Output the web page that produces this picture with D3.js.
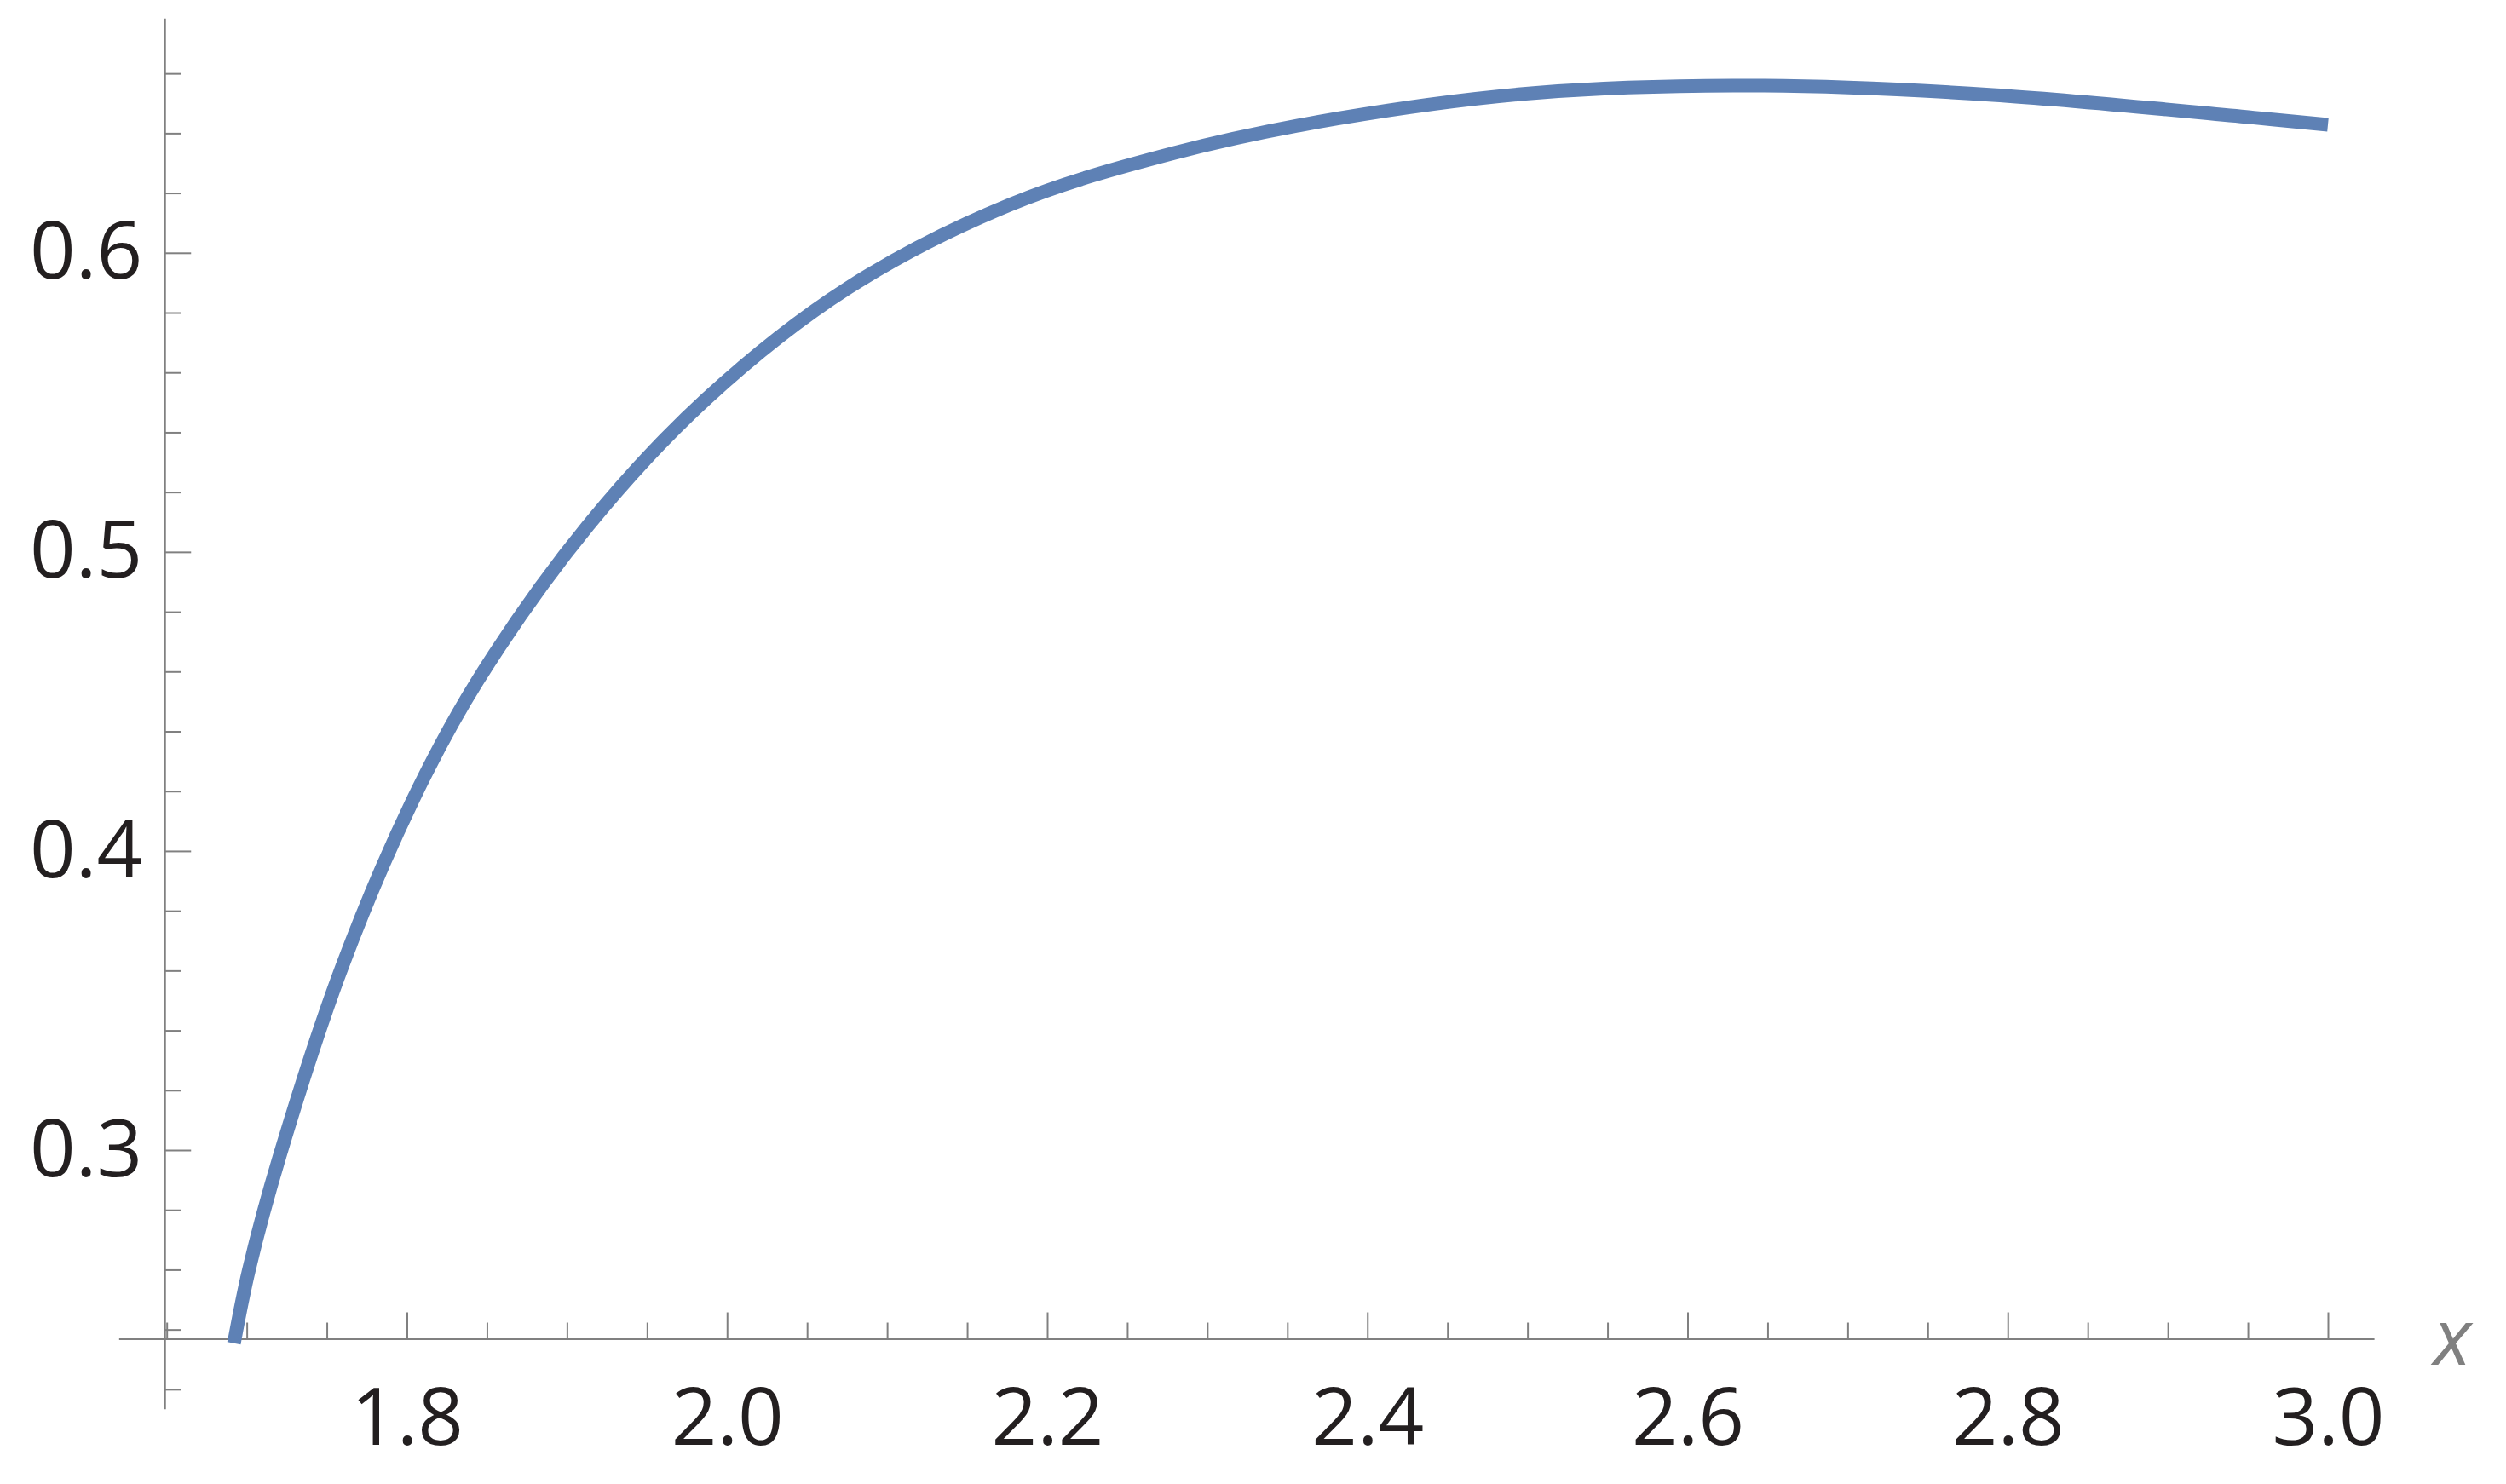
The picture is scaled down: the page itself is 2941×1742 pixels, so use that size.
<!DOCTYPE html>
<html>
<head>
<meta charset="utf-8">
<script src="https://cdn.jsdelivr.net/npm/d3@7"></script>
<style>
  html, body { margin: 0; padding: 0; background: #fff; }
  svg { display: block; }
</style>
</head>
<body>
<script>
// Kurvans punkter
var xValues = [1.692, 1.7014, 1.7206, 1.7598, 1.8035, 1.8439, 1.9133, 1.9871, 2.0757,
               2.1776, 2.2795, 2.3813, 2.5055, 2.648, 2.7907, 2.9537, 3.000];
var yValues = [0.2354, 0.2601, 0.2981, 0.3617, 0.4168, 0.4567, 0.5089, 0.5512, 0.5883,
               0.6163, 0.6334, 0.6449, 0.6535, 0.6559, 0.6528, 0.6452, 0.6428];

// Axlar: huvudstreck, etiketter och små streck
var xMajor = [1.8, 2.0, 2.2, 2.4, 2.6, 2.8, 3.0];
var xLabels = ["1.8", "2.0", "2.2", "2.4", "2.6", "2.8", "3.0"];
var xMinor = [1.65, 1.70, 1.75, 1.85, 1.90, 1.95, 2.05, 2.10, 2.15, 2.25, 2.30, 2.35,
              2.45, 2.50, 2.55, 2.65, 2.70, 2.75, 2.85, 2.90, 2.95];
var yMajor = [0.3, 0.4, 0.5, 0.6];
var yLabels = ["0.3", "0.4", "0.5", "0.6"];
var yMinor = [0.22, 0.24, 0.26, 0.28, 0.32, 0.34, 0.36, 0.38, 0.42, 0.44, 0.46, 0.48,
              0.52, 0.54, 0.56, 0.58, 0.62, 0.64, 0.66];
var axisLabel = "x";

// Axelomfång och korsningspunkt (i dataenheter)
var xExtent = [1.62, 3.0288], yExtent = [0.2135, 0.6785];
var xCross = 1.6487, yCross = 0.2369;

var width = 2941, height = 1742;
var gray = "#808080", lineColor = "#5e81b5", textColor = "#231f20";

var xScale = d3.scaleLinear().domain([1.8, 3.0]).range([477.5, 2732]);
var yScale = d3.scaleLinear().domain([0.3, 0.6]).range([1350, 296.8]);

// Kopior som täcker hela axellinjen
var xAxisScale = xScale.copy().domain(xExtent).range(xExtent.map(xScale));
var yAxisScale = yScale.copy().domain(yExtent).range(yExtent.map(yScale));

var canvas = d3.select("body").append("svg")
    .attr("width", width)
    .attr("height", height);

// X-axel
var xAxisG = canvas.append("g").attr("transform", "translate(0," + yScale(yCross) + ")");
xAxisG.append("g").call(d3.axisBottom(xAxisScale).tickValues(xMinor).tickSize(-19).tickSizeOuter(0).tickFormat(""))
    .select(".domain").remove();
xAxisG.append("g").call(d3.axisBottom(xAxisScale).tickValues(xMajor).tickSize(-31).tickSizeOuter(0)
        .tickPadding(58).tickFormat(function(d, i) { return xLabels[i]; }));

// Y-axel
var yAxisG = canvas.append("g").attr("transform", "translate(" + xScale(xCross) + ",0)");
yAxisG.append("g").call(d3.axisLeft(yAxisScale).tickValues(yMinor).tickSize(-19).tickSizeOuter(0).tickFormat(""))
    .select(".domain").remove();
yAxisG.append("g").call(d3.axisLeft(yAxisScale).tickValues(yMajor).tickSize(-31).tickSizeOuter(0)
        .tickPadding(26).tickFormat(function(d, i) { return yLabels[i]; }));

canvas.selectAll(".domain, .tick line")
    .attr("stroke", gray)
    .attr("stroke-width", 2);
canvas.selectAll(".tick text")
    .attr("fill", textColor)
    .style("font-family", "'Open Sans', 'Noto Sans', sans-serif")
    .style("font-size", "94px");

// Axeltitel
canvas.append("text")
    .attr("x", xAxisScale.range()[1] + 70)
    .attr("y", yScale(yCross) + 30)
    .attr("fill", gray)
    .style("font-family", "'Open Sans', 'Noto Sans', sans-serif")
    .style("font-style", "italic")
    .style("font-size", "92px")
    .text(axisLabel);

// Kurvan
var points = xValues.map(function(x, i) { return [x, yValues[i]]; });
var line = d3.line()
    .x(function(d) { return xScale(d[0]); })
    .y(function(d) { return yScale(d[1]); })
    .curve(d3.curveCatmullRom.alpha(0.5));

canvas.append("path")
    .datum(points)
    .attr("d", line)
    .attr("fill", "none")
    .attr("stroke", lineColor)
    .attr("stroke-width", 16)
    .attr("stroke-linecap", "butt")
    .attr("stroke-linejoin", "round");
</script>
</body>
</html>
